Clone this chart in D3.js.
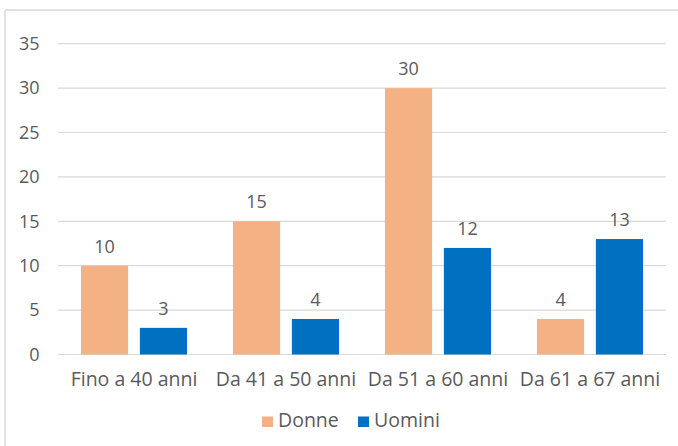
<!DOCTYPE html>
<html>
<head>
<meta charset="utf-8">
<script src="https://cdn.jsdelivr.net/npm/d3@7"></script>
<style>
  body { margin: 0; background: #fff; }
  text { font-family: "Open Sans", "Noto Sans", sans-serif; fill: #5a5a5e; }
</style>
</head>
<body>
<script>
const categories = ["Fino a 40 anni", "Da 41 a 50 anni", "Da 51 a 60 anni", "Da 61 a 67 anni"];
const seriesNames = ["Donne", "Uomini"];
const donne = [10, 15, 30, 4];
const uomini = [3, 4, 12, 13];
const yTicks = [0, 5, 10, 15, 20, 25, 30, 35];
const colors = ["#F4B183", "#0070C0"];

const width = 678;
const height = 446;
const svg = d3.select("body").append("svg").attr("width", width).attr("height", height);

// chart frame (only left & top edges visible in the crop)
svg.append("line").attr("x1", 5).attr("x2", 5).attr("y1", 10).attr("y2", height).attr("stroke", "#d9d9de").attr("stroke-width", 1.5);
svg.append("line").attr("x1", 5).attr("x2", width).attr("y1", 10).attr("y2", 10).attr("stroke", "#d9d9de").attr("stroke-width", 1.5);

const plotLeft = 58, plotRight = 666, plotTop = 43.7, plotBottom = 354.5;

const x0 = d3.scaleBand().domain(categories).range([plotLeft, plotRight]).paddingInner(0).paddingOuter(0);
const x1 = d3.scaleBand().domain(seriesNames).range([23, x0.bandwidth() - 23]).paddingInner(0.2);
const y = d3.scaleLinear().domain([0, 35]).range([plotBottom, plotTop]);

// gridlines
svg.selectAll("line.grid")
  .data(yTicks)
  .join("line")
  .attr("class", "grid")
  .attr("x1", plotLeft).attr("x2", plotRight)
  .attr("y1", d => y(d)).attr("y2", d => y(d))
  .attr("stroke", "#d9d9d9").attr("stroke-width", 1.2);

// y tick labels
svg.selectAll("text.ytick")
  .data(yTicks)
  .join("text")
  .attr("class", "ytick")
  .attr("x", 39.5)
  .attr("y", d => y(d))
  .attr("dy", "0.35em")
  .attr("text-anchor", "end")
  .attr("font-size", 18)
  .text(d => d);

const data = categories.map((c, i) => ({ cat: c, values: [
  { name: "Donne", v: donne[i] },
  { name: "Uomini", v: uomini[i] }
]}));

const groups = svg.selectAll("g.cat")
  .data(data)
  .join("g")
  .attr("class", "cat")
  .attr("transform", d => "translate(" + x0(d.cat) + ",0)");

groups.selectAll("rect")
  .data(d => d.values)
  .join("rect")
  .attr("x", d => x1(d.name))
  .attr("width", x1.bandwidth())
  .attr("y", d => y(d.v))
  .attr("height", d => y(0) - y(d.v))
  .attr("fill", (d, i) => colors[i]);

groups.selectAll("text.val")
  .data(d => d.values)
  .join("text")
  .attr("class", "val")
  .attr("x", d => x1(d.name) + x1.bandwidth() / 2)
  .attr("y", d => y(d.v) - 13)
  .attr("text-anchor", "middle")
  .attr("font-size", 18)
  .text(d => d.v);

// category labels
svg.selectAll("text.xlab")
  .data(categories)
  .join("text")
  .attr("class", "xlab")
  .attr("x", d => x0(d) + x0.bandwidth() / 2)
  .attr("y", 386)
  .attr("text-anchor", "middle")
  .attr("font-size", 19.5)
  .text(d => d);

// legend
const legendX = [262, 358];
const legend = svg.selectAll("g.leg")
  .data(seriesNames)
  .join("g")
  .attr("class", "leg")
  .attr("transform", (d, i) => "translate(" + legendX[i] + ",416.5)");
legend.append("rect").attr("width", 11).attr("height", 10.5).attr("fill", (d, i) => colors[i]);
legend.append("text").attr("x", 16).attr("y", 10.5).attr("font-size", 19.5).text(d => d);
</script>
</body>
</html>
